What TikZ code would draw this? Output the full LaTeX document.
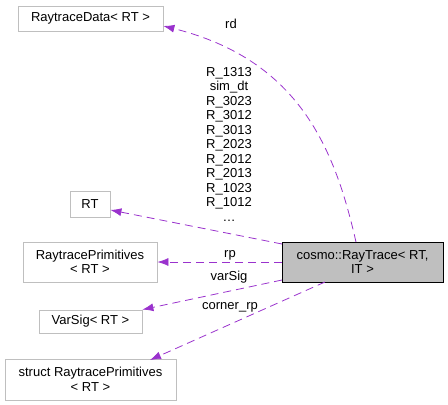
\documentclass[tikz,border=0pt]{standalone}
\usepackage{fontspec}
\setmainfont{Liberation Sans}
\usetikzlibrary{arrows.meta}
\definecolor{edgec}{HTML}{9A32CD}
\definecolor{boxg}{HTML}{BFBFBF}
\begin{document}
\begin{tikzpicture}[x=1pt,y=-1pt,
  every node/.style={font=\fontsize{13}{14.5}\selectfont, inner sep=0pt},
  cls/.style={draw=boxg, line width=0.8pt, fill=white, align=center},
  mainc/.style={draw=black, line width=0.8pt, fill=boxg, align=center},
  rel/.style={draw=edgec, dash pattern=on 8pt off 5pt, line width=0.8pt, -{Latex[length=11pt,width=8pt]}},
  lbl/.style={align=center}]
\useasboundingbox (0,0) rectangle (448,405);
\node[cls, minimum width=145pt, minimum height=25pt] (rdata) at (90.5,18.5) {RaytraceData< RT >};
\node[cls, minimum width=40pt, minimum height=26pt] (rt) at (90,204) {RT};
\node[cls, minimum width=134pt, minimum height=40pt] (rprim) at (90,262) {RaytracePrimitives\\< RT >};
\node[cls, minimum width=103pt, minimum height=23pt] (vsig) at (90.5,321.5) {VarSig< RT >};
\node[cls, minimum width=171pt, minimum height=41pt] (srprim) at (90.5,379.5) {struct RaytracePrimitives\\< RT >};
\node[mainc, minimum width=161pt, minimum height=40pt] (main) at (362.5,262) {cosmo::RayTrace< RT,\\ IT >};
\coordinate (m1) at (356,242);
\coordinate (m2) at (282,244);
\coordinate (m3) at (282,262);
\coordinate (m4) at (282,280);
\coordinate (m5) at (325,282);
\draw[rel] (m1) .. controls (335,150) and (300,60) .. (rdata.east |- 0,26);
\draw[rel] (m2) -- (rt.east |- 0,210);
\draw[rel] (m3) -- (rprim.east);
\draw[rel] (m4) -- (vsig.north east);
\draw[rel] (m5) -- (150,360);
\node (l1) at (231,24) {rd};
\node[lbl, anchor=north] (l2) at (229,67) {R\_1313\\sim\_dt\\R\_3023\\R\_3012\\R\_3013\\R\_2023\\R\_2012\\R\_2013\\R\_1023\\R\_1012\\\ldots};
\node (l3) at (230,255) {rp};
\node (l4) at (229,277) {varSig};
\node (l5) at (230,307) {corner\_rp};
\end{tikzpicture}
\end{document}
